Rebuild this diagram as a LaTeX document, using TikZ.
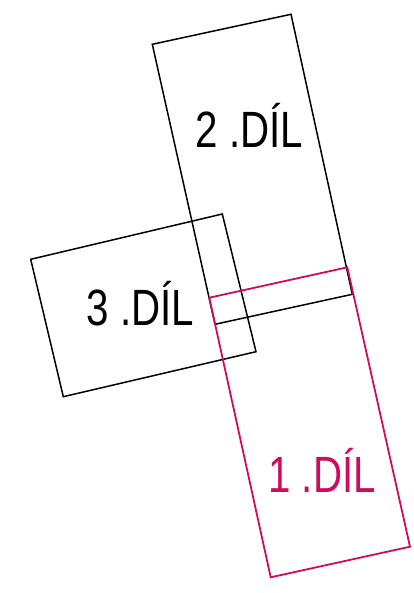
\documentclass[tikz,border=0pt]{standalone}
\usepackage{fontspec}
\setmainfont{Liberation Sans}
\definecolor{dilmag}{RGB}{208,12,90}
\begin{document}
\begin{tikzpicture}[x=1pt,y=-1pt,
  part/.style={draw=black,line width=1.5pt,line join=miter},
  partone/.style={draw=dilmag,line width=1.8pt,line join=miter},
  lbl/.style={anchor=base,inner sep=0pt,font=\fontsize{51}{51}\selectfont,xscale=0.79}]
\useasboundingbox (0,0) rectangle (413,593);
% 2. díl
\coordinate (a1) at (152.3,44.3);
\coordinate (a2) at (291,14.3);
\coordinate (a3) at (352.3,294.3);
\coordinate (a4) at (215,324.3);
\draw[part] (a1) -- (a2) -- (a3) -- (a4) -- cycle;
% 3. díl
\coordinate (b1) at (30.7,259.3);
\coordinate (b2) at (222.3,214);
\coordinate (b3) at (256,351.7);
\coordinate (b4) at (63.3,396.7);
\draw[part] (b1) -- (b2) -- (b3) -- (b4) -- cycle;
% 1. díl
\coordinate (c1) at (209.3,297.7);
\coordinate (c2) at (347.3,267.3);
\coordinate (c3) at (410,546.7);
\coordinate (c4) at (270.7,577.3);
\draw[partone] (c1) -- (c2) -- (c3) -- (c4) -- cycle;
% labels
\node[lbl] (t2) at (249.5,148) {2 .DÍL};
\node[lbl] (t3) at (140.5,325.5) {3 .DÍL};
\node[lbl,text=dilmag] (t1) at (322,492) {1 .DÍL};
\end{tikzpicture}
\end{document}
